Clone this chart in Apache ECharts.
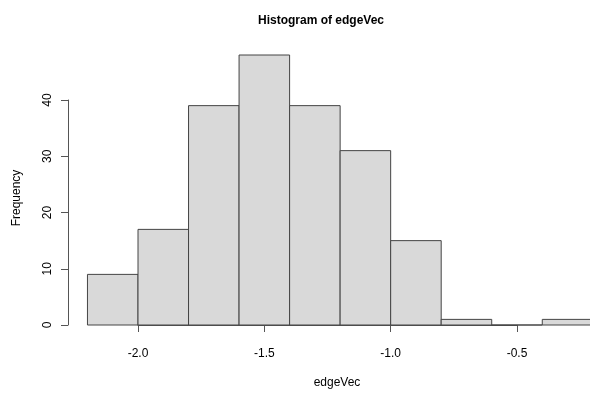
<!DOCTYPE html>
<html>
<head>
<meta charset="utf-8">
<script src="https://cdn.jsdelivr.net/npm/echarts@6/dist/echarts.min.js"></script>
<style>
  html, body { margin: 0; padding: 0; background: #fff; }
  #chart { width: 590px; height: 398px; }
</style>
</head>
<body>
<div id="chart"></div>
<script>
// histogram bins of edgeVec
var binStarts = [-2.2, -2.0, -1.8, -1.6, -1.4, -1.2, -1.0, -0.8, -0.6, -0.4];
var binEnds   = [-2.0, -1.8, -1.6, -1.4, -1.2, -1.0, -0.8, -0.6, -0.4, -0.2];
var counts    = [9, 17, 39, 48, 39, 31, 15, 1, 0, 1];
var xTicks = [-2.0, -1.5, -1.0, -0.5];
var yTicks = [0, 10, 20, 30, 40];

var font = '"Liberation Sans", Arial, sans-serif';
var bins = binStarts.map(function (s, i) { return [s, binEnds[i], counts[i]]; });

var myChart = echarts.init(document.getElementById('chart'));
var option = {
    backgroundColor: '#ffffff',
    animation: false,
    title: {
        text: 'Histogram of edgeVec',
        left: 316,
        top: 10,
        textAlign: 'center',
        textStyle: { fontFamily: font, fontSize: 12, fontWeight: 'bold', color: '#000' }
    },
    // axis titles are centred on the whole plot region, not on the tick range
    graphic: [
        {
            type: 'text', x: 337, y: 383,
            style: { text: 'edgeVec', fontFamily: font, fontSize: 12, fill: '#000', align: 'center', verticalAlign: 'middle' }
        },
        {
            type: 'text', x: 17, y: 198, rotation: Math.PI / 2,
            style: { text: 'Frequency', fontFamily: font, fontSize: 12, fill: '#000', align: 'center', verticalAlign: 'middle' }
        }
    ],
    grid: { left: 138, right: 73, top: 100, bottom: 73 },
    xAxis: {
        type: 'value',
        min: xTicks[0],
        max: xTicks[xTicks.length - 1],
        interval: 0.5,
        offset: 11,
        axisLine: { lineStyle: { color: '#555', width: 1 } },
        axisTick: { length: 7, lineStyle: { color: '#555' } },
        axisLabel: {
            margin: 12,
            fontFamily: font, fontSize: 12, color: '#000',
            formatter: function (v) { return v.toFixed(1); }
        },
        splitLine: { show: false }
    },
    yAxis: {
        type: 'value',
        min: yTicks[0],
        max: yTicks[yTicks.length - 1],
        interval: 10,
        offset: 70,
        axisLine: { show: true, lineStyle: { color: '#555', width: 1 } },
        axisTick: { show: true, length: 7, lineStyle: { color: '#555' } },
        axisLabel: {
            rotate: 90,
            margin: 14,
            fontFamily: font, fontSize: 12, color: '#000'
        },
        splitLine: { show: false }
    },
    series: [{
        type: 'custom',
        clip: false,
        data: bins,
        renderItem: function (params, api) {
            var p0 = api.coord([api.value(0), api.value(2)]);
            var p1 = api.coord([api.value(1), 0]);
            return {
                type: 'rect',
                shape: { x: p0[0], y: p0[1], width: p1[0] - p0[0], height: p1[1] - p0[1] },
                style: { fill: '#d9d9d9', stroke: '#444', lineWidth: 1 }
            };
        }
    }]
};
myChart.setOption(option);
window.addEventListener('resize', myChart.resize);
</script>
</body>
</html>
